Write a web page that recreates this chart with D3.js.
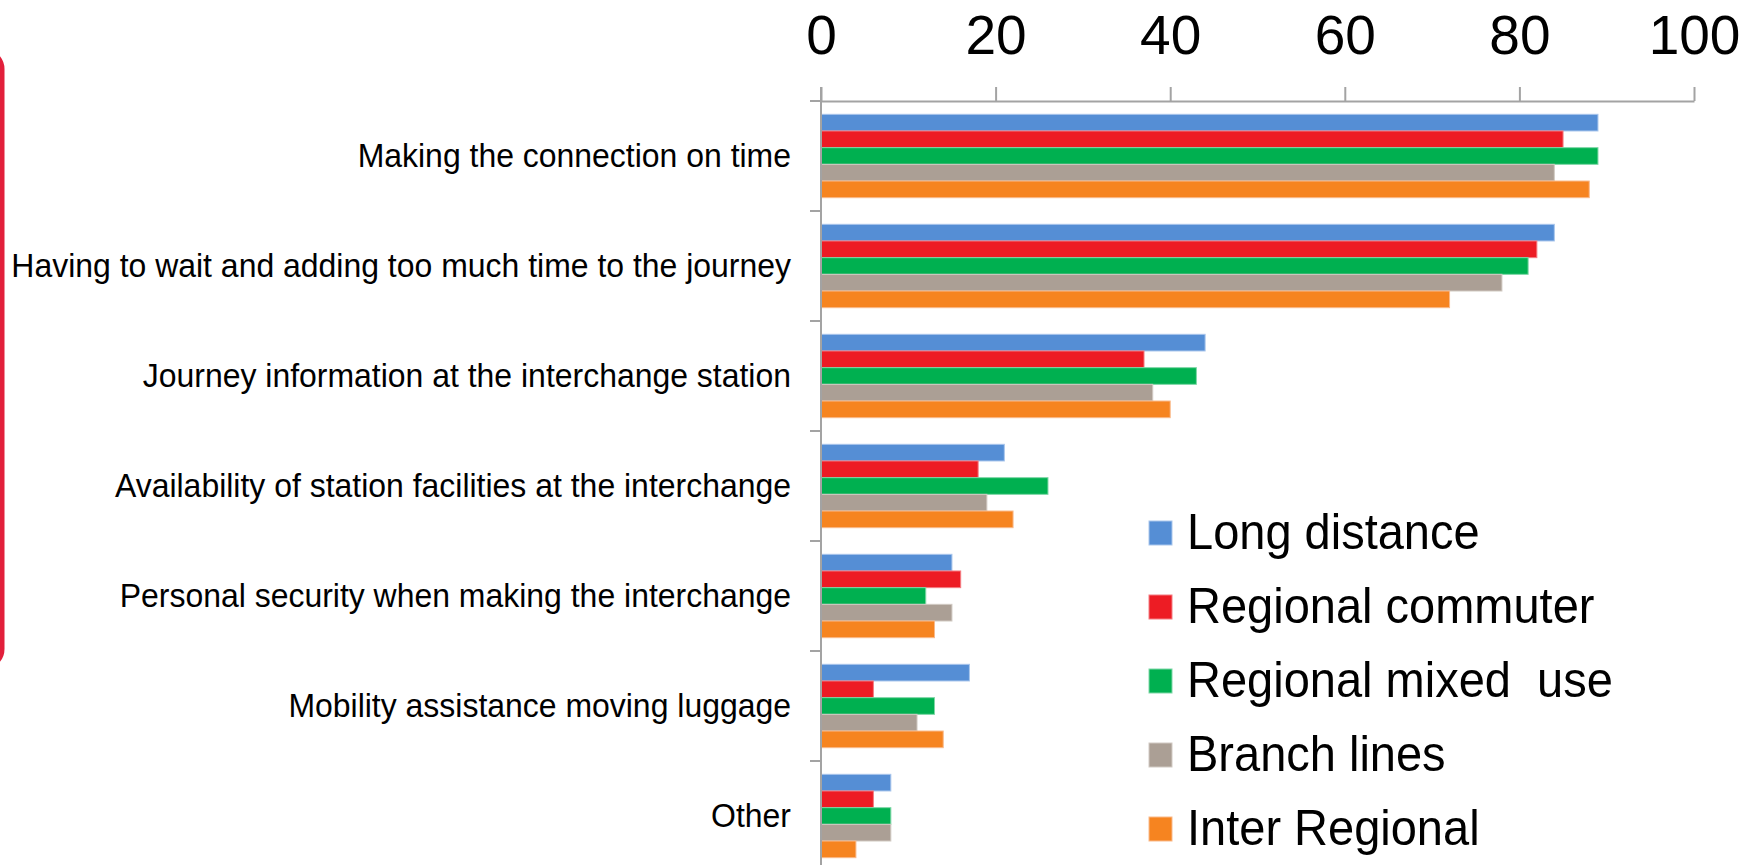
<!DOCTYPE html>
<html>
<head>
<meta charset="utf-8">
<script src="https://cdn.jsdelivr.net/npm/d3@7"></script>
<style>
  html, body { margin: 0; padding: 0; background: #ffffff; }
  svg { display: block; font-family: Arial, "Liberation Sans", sans-serif; }
  .legend text { white-space: pre; }
</style>
</head>
<body>
<svg id="chart" width="1750" height="865"></svg>
<script>
// Interchange concerns by service type (percent of respondents)
const categories = [
  "Making the connection on time",
  "Having to wait and adding too much time to the journey",
  "Journey information at the interchange station",
  "Availability of station facilities at the interchange",
  "Personal security when making the interchange",
  "Mobility assistance moving luggage",
  "Other"
];
const seriesNames = ["Long distance", "Regional commuter", "Regional mixed  use", "Branch lines", "Inter Regional"];
const longDistance     = [89, 84, 44, 21, 15, 17, 8];
const regionalCommuter = [85, 82, 37, 18, 16, 6, 6];
const regionalMixedUse = [89, 81, 43, 26, 12, 13, 8];
const branchLines      = [84, 78, 38, 19, 15, 11, 8];
const interRegional    = [88, 72, 40, 22, 13, 14, 4];
const xTicks = [0, 20, 40, 60, 80, 100];

const seriesValues = [longDistance, regionalCommuter, regionalMixedUse, branchLines, interRegional];
const fills   = ["#558ed5", "#ed1c24", "#00b050", "#ab9f95", "#f68420"];
const strokes = ["#a9c6ec", "#f47c82", "#7fd7a7", "#d1cac3", "#f9b98a"];

// Narrow text look: glyphs squeezed horizontally
const squeeze = 0.94;

const svg = d3.select("#chart");
svg.append("rect").attr("width", 1750).attr("height", 865).attr("fill", "#ffffff");

// Rounded frame partly off the left edge
svg.append("rect")
  .attr("x", -100).attr("y", 51)
  .attr("width", 102).attr("height", 616)
  .attr("rx", 18).attr("ry", 18)
  .attr("fill", "none")
  .attr("stroke", "#e21f3b")
  .attr("stroke-width", 5);

const x0 = 821, x1 = 1694, yTop = 101, step = 110;

const x = d3.scaleLinear().domain([0, 100]).range([x0, x1]);
const y = d3.scaleBand()
  .domain(categories)
  .range([yTop, yTop + step * categories.length])
  .paddingInner(0.242)
  .paddingOuter(0.121);
const ySeries = d3.scaleBand()
  .domain(d3.range(seriesNames.length))
  .range([0, y.bandwidth()]);

// Bars
const rows = categories.map((c, i) => ({ c, vals: seriesValues.map(s => s[i]) }));
const groups = svg.append("g").selectAll("g")
  .data(rows).join("g")
  .attr("transform", d => `translate(0,${y(d.c)})`);
groups.selectAll("rect")
  .data(d => d.vals.map((v, k) => ({ v, k })))
  .join("rect")
  .attr("x", x(0))
  .attr("y", d => ySeries(d.k))
  .attr("width", d => x(d.v) - x(0))
  .attr("height", ySeries.bandwidth())
  .attr("fill", d => fills[d.k])
  .attr("stroke", d => strokes[d.k])
  .attr("stroke-width", 1);

const axisColor = "#a3a3a3";

// Top value axis
const topAxis = svg.append("g")
  .attr("transform", `translate(0,${yTop})`)
  .call(d3.axisTop(x).tickValues(xTicks).tickSize(14).tickSizeOuter(0).tickPadding(33));
topAxis.select(".domain").attr("stroke", axisColor).attr("stroke-width", 2);
topAxis.selectAll(".tick line").attr("stroke", axisColor).attr("stroke-width", 2);
topAxis.selectAll(".tick text")
  .attr("fill", "#000")
  .attr("font-size", 55)
  .attr("font-family", "Arial, 'Liberation Sans', sans-serif");

// Left category axis: line, boundary ticks and labels
svg.append("line")
  .attr("x1", x0).attr("x2", x0)
  .attr("y1", yTop - 14).attr("y2", 880)
  .attr("stroke", axisColor).attr("stroke-width", 2);
const boundaries = categories.map(c => y(c) - y.step() * y.paddingOuter())
  .concat([y(categories[categories.length - 1]) + y.bandwidth() + y.step() * y.paddingOuter()]);
svg.append("g").selectAll("line")
  .data(boundaries).join("line")
  .attr("x1", x0 - 11).attr("x2", x0)
  .attr("y1", d => d).attr("y2", d => d)
  .attr("stroke", axisColor).attr("stroke-width", 2);

const leftAxis = svg.append("g")
  .attr("transform", `translate(${x0},0)`)
  .call(d3.axisLeft(y).tickSize(0).tickPadding(30));
leftAxis.select(".domain").remove();
leftAxis.selectAll(".tick text")
  .attr("fill", "#000")
  .attr("font-size", 34)
  .attr("font-family", "Arial, 'Liberation Sans', sans-serif")
  .attr("x", -30 / squeeze)
  .attr("transform", `scale(${squeeze},1)`);

// Legend
const legend = svg.append("g").attr("class", "legend");
const items = legend.selectAll("g")
  .data(seriesNames).join("g")
  .attr("transform", (d, i) => `translate(1149,${548 + i * 74})`);
items.append("rect")
  .attr("x", 0).attr("y", -27)
  .attr("width", 23).attr("height", 24)
  .attr("fill", (d, i) => fills[i])
  .attr("stroke", (d, i) => strokes[i])
  .attr("stroke-width", 1);
items.append("text")
  .attr("transform", `translate(38,1) scale(${squeeze},1)`)
  .attr("font-size", 50)
  .attr("fill", "#000")
  .text(d => d);
</script>
</body>
</html>
